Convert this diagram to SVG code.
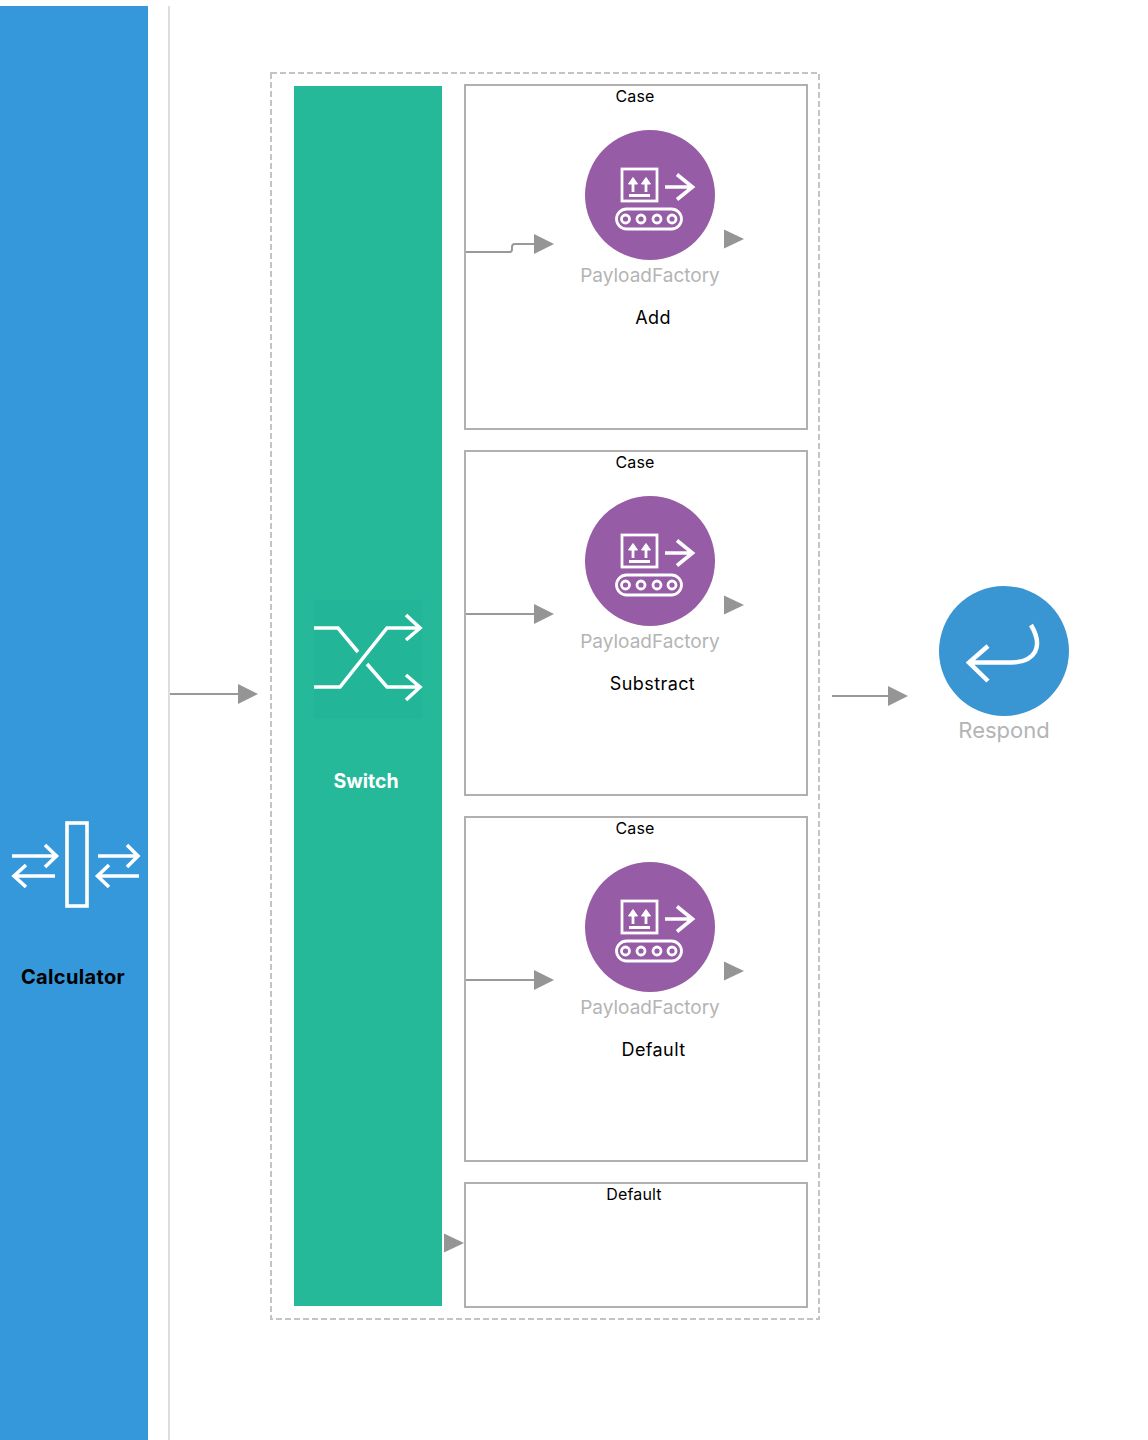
<svg xmlns="http://www.w3.org/2000/svg" xmlns:xlink="http://www.w3.org/1999/xlink" width="1148" height="1440" viewBox="0 0 1148 1440">
<style>
text{font-family:Inter,"Liberation Sans",sans-serif}
.case{fill:#fff;stroke:#b0b0b0;stroke-width:2}
.sm{font-size:16px;fill:#000;text-anchor:middle;letter-spacing:.15px}
.big{font-size:18px;fill:#000;text-anchor:middle;letter-spacing:.4px}
.gray{font-size:19px;fill:#b4b4b4;text-anchor:middle}
.bold{font-size:20px;font-weight:700;text-anchor:middle}
.ic{fill:none;stroke:#fff;stroke-width:3.600;stroke-linejoin:miter}
.ic2{fill:none;stroke:#fff;stroke-width:2.800}
.wire{fill:none;stroke:#999;stroke-width:2}
.head{fill:#959595}
</style>
<defs>
<g id="pf">
<circle cx="650" cy="195" r="65" fill="#975ca6"/>
<rect x="622" y="169" width="35" height="32" class="ic2"/>
<path d="M633 192V181M646 192V181M629 195.500H650" class="ic2"/>
<path d="M628.500 184L633 177.500L637.500 184ZM641.500 184L646 177.500L650.500 184Z" fill="#fff" stroke="#fff"/>
<path d="M665 187H692M677 174.500L692.500 187L677 199.500" class="ic"/>
<rect x="616.500" y="209" width="65" height="20" rx="10" class="ic2"/>
<circle cx="625.500" cy="219" r="4" class="ic2"/><circle cx="641" cy="219" r="4" class="ic2"/><circle cx="657" cy="219" r="4" class="ic2"/><circle cx="672" cy="219" r="4" class="ic2"/>
<path d="M724 229.500L744 239L724 248.500Z" class="head"/>
<text x="650" y="282" class="gray">PayloadFactory</text>
</g>
</defs>
<rect width="1148" height="1440" fill="#fff"/>
<g id="calculator">
<rect x="0" y="6" width="148" height="1434" fill="#3498db"/>
<rect x="67" y="823" width="20" height="83" class="ic"/>
<path d="M12 856H56M45 845L56.500 856L45 867M55 876H14M26 865L14 876L26 887M98 856H137M127 845L138 856L127 867M139 876H97M109 865L97.500 876L109 887" class="ic"/>
<text x="73" y="984" class="bold" fill="#000" style="letter-spacing:.35px">Calculator</text>
</g>
<g id="divider"><path d="M169 6V1440" stroke="#ddd" stroke-width="2"/></g>
<g id="switch-frame"><rect x="271" y="73" width="548" height="1246" fill="none" stroke="#c4c4c4" stroke-width="2" stroke-dasharray="6 3"/></g>
<g id="switch">
<rect x="294" y="86" width="148" height="1220" fill="#25b99a"/>
<rect x="314" y="600" width="108" height="119" fill="#23b597"/>
<path d="M314 628H338L358 652M367 664L387 687H419M314 687H340L387 628H419M406 615L420 628L406 640M406 675L420 687L406 700" class="ic"/>
<text x="366" y="788" class="bold" fill="#fff" style="font-size:19.500px">Switch</text>
</g>
<g id="case-add">
<rect x="465" y="85" width="342" height="344" class="case"/>
<text x="635" y="102" class="sm">Case</text>
<use xlink:href="#pf" href="#pf"/>
<text x="653" y="324" class="big">Add</text>
</g>
<g id="case-substract">
<rect x="465" y="451" width="342" height="344" class="case"/>
<text x="635" y="468" class="sm">Case</text>
<use xlink:href="#pf" href="#pf" y="366"/>
<text x="652.500" y="690" class="big">Substract</text>
</g>
<g id="case-default">
<rect x="465" y="817" width="342" height="344" class="case"/>
<text x="635" y="834" class="sm">Case</text>
<use xlink:href="#pf" href="#pf" y="732"/>
<text x="653.500" y="1056" class="big">Default</text>
</g>
<g id="default">
<rect x="465" y="1183" width="342" height="124" class="case"/>
<text x="634" y="1200" class="sm">Default</text>
</g>
<g id="respond">
<circle cx="1004" cy="651" r="65" fill="#3996d3"/>
<path d="M1031 625C1044 647 1035 662 1012 662.500H969M988 646L969 662.500L988 681" fill="none" stroke="#fff" stroke-width="4.500"/>
<text x="1004" y="738" class="gray" style="font-size:22px">Respond</text>
</g>
<g id="connectors">
<path d="M170 694H240" class="wire"/><path d="M238 684L258 694L238 704Z" class="head"/>
<path d="M466 252H510Q512 252 512 249V247Q512 244 515 244H536" class="wire"/><path d="M534 234L554 244L534 254Z" class="head"/>
<path d="M466 614H536" class="wire"/><path d="M534 604L554 614L534 624Z" class="head"/>
<path d="M466 980H536" class="wire"/><path d="M534 970L554 980L534 990Z" class="head"/>
<path d="M832 696H890" class="wire"/><path d="M888 686L908 696L888 706Z" class="head"/>
<path d="M444 1233.500L464 1243L444 1252.500Z" class="head"/>
</g>
</svg>
